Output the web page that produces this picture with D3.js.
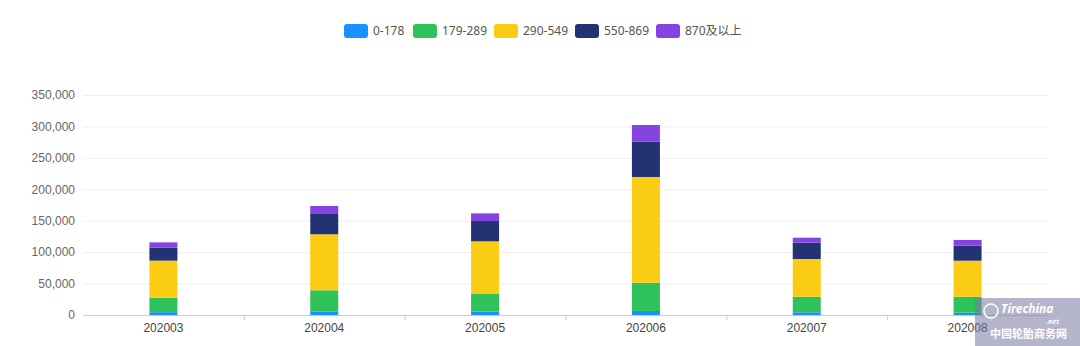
<!DOCTYPE html>
<html>
<head>
<meta charset="utf-8">
<script src="https://cdn.jsdelivr.net/npm/d3@7/dist/d3.min.js"></script>
<style>
  html, body { margin: 0; padding: 0; background: #fff; }
  svg { display: block; font-family: "Noto Sans", "Noto Sans CJK SC", sans-serif; }
</style>
</head>
<body>
<svg id="chart" width="1080" height="346"></svg>
<script>
// Monthly volumes by price band
const months = ["202003", "202004", "202005", "202006", "202007", "202008"];
const bands = ["0-178", "179-289", "290-549", "550-869", "870及以上"];
const colors = ["#1890FF", "#2FC25B", "#FACC14", "#223273", "#8543E0"];

const band0_178   = [4500, 5200, 5500, 6400, 4300, 3700];
const band179_289 = [23000, 34100, 27900, 45000, 24800, 25400];
const band290_549 = [59000, 89100, 83800, 168200, 60000, 57300];
const band550_869 = [20500, 32300, 32300, 56100, 25900, 23900];
const band870up   = [8500, 12700, 12200, 26600, 8000, 9100];

const yTicks = [0, 50000, 100000, 150000, 200000, 250000, 300000, 350000];

const seriesValues = [band0_178, band179_289, band290_549, band550_869, band870up];
const rows = months.map((m, i) => {
  const r = { month: m };
  bands.forEach((b, j) => { r[b] = seriesValues[j][i]; });
  return r;
});

const svg = d3.select("#chart");
const plotLeft = 83, plotRight = 1048, plotTop = 95, plotBottom = 315;

const x = d3.scaleBand().domain(months).range([plotLeft, plotRight]).padding(0);
const y = d3.scaleLinear().domain([0, 350000]).range([plotBottom, plotTop]);
const barWidth = 28;

// grid lines
svg.append("g").selectAll("line")
  .data(yTicks.filter(d => d > 0))
  .join("line")
  .attr("x1", plotLeft).attr("x2", plotRight)
  .attr("y1", d => y(d) + 0.5).attr("y2", d => y(d) + 0.5)
  .attr("stroke", "#eeeeee").attr("stroke-width", 1);

// y axis labels
const yAxis = d3.axisLeft(y).tickValues(yTicks).tickFormat(d3.format(",")).tickSize(0).tickPadding(8);
const gy = svg.append("g").attr("transform", `translate(${plotLeft},0)`).call(yAxis);
gy.select(".domain").remove();
gy.selectAll("text").attr("fill", "#666").style("font-size", "12px").attr("x", -8);

// stacked bars
const stack = d3.stack().keys(bands);
const layers = stack(rows);
svg.append("g").selectAll("g")
  .data(layers)
  .join("g")
  .attr("fill", (d, i) => colors[i])
  .selectAll("rect")
  .data(d => d)
  .join("rect")
  .attr("x", d => x(d.data.month) + x.bandwidth() / 2 - barWidth / 2)
  .attr("width", barWidth)
  .attr("y", d => y(d[1]))
  .attr("height", d => y(d[0]) - y(d[1]));

// x axis
const xAxis = d3.axisBottom(x).tickSize(0).tickPadding(8);
const gx = svg.append("g").attr("transform", `translate(0,${plotBottom})`).call(xAxis);
gx.select(".domain").attr("stroke", "#cccccc").attr("d", `M${plotLeft},0.5H${plotRight}`);
gx.selectAll("text").attr("fill", "#444").style("font-size", "12px");
// boundary ticks between categories
svg.append("g").selectAll("line")
  .data(months.slice(1))
  .join("line")
  .attr("x1", d => x(d) + 0.5).attr("x2", d => x(d) + 0.5)
  .attr("y1", plotBottom).attr("y2", plotBottom + 5)
  .attr("stroke", "#cccccc");

// legend
const legendX = [344, 413, 494, 575, 656];
const lg = svg.append("g").selectAll("g")
  .data(bands)
  .join("g")
  .attr("transform", (d, i) => `translate(${legendX[i]},24)`);
lg.append("rect").attr("width", 24).attr("height", 14).attr("rx", 3)
  .attr("fill", (d, i) => colors[i]);
lg.append("text").attr("x", 29).attr("y", 7).attr("dy", "0.35em")
  .attr("fill", "#555").style("font-size", "12px").text(d => d);

// site badge, bottom right
const wm = svg.append("g");
wm.append("rect").attr("x", 975).attr("y", 298).attr("width", 105).attr("height", 48)
  .attr("fill", "#77779f").attr("opacity", 0.55);
wm.append("circle").attr("cx", 991).attr("cy", 311).attr("r", 7)
  .attr("fill", "none").attr("stroke", "#fff").attr("stroke-width", 1.5);
wm.append("text").attr("x", 1001).attr("y", 313).attr("fill", "#fff")
  .style("font-size", "12px").style("font-weight", "bold").style("font-style", "italic")
  .text("Tirechina");
wm.append("text").attr("x", 1046).attr("y", 324).attr("fill", "#fff")
  .style("font-size", "7px").style("font-weight", "bold").style("font-style", "italic")
  .text(".net");
wm.append("text").attr("x", 990).attr("y", 338).attr("fill", "#fff")
  .style("font-size", "11px").style("font-weight", "bold")
  .style("font-family", "'Noto Sans CJK SC', sans-serif")
  .text("中国轮胎商务网");
</script>
</body>
</html>
